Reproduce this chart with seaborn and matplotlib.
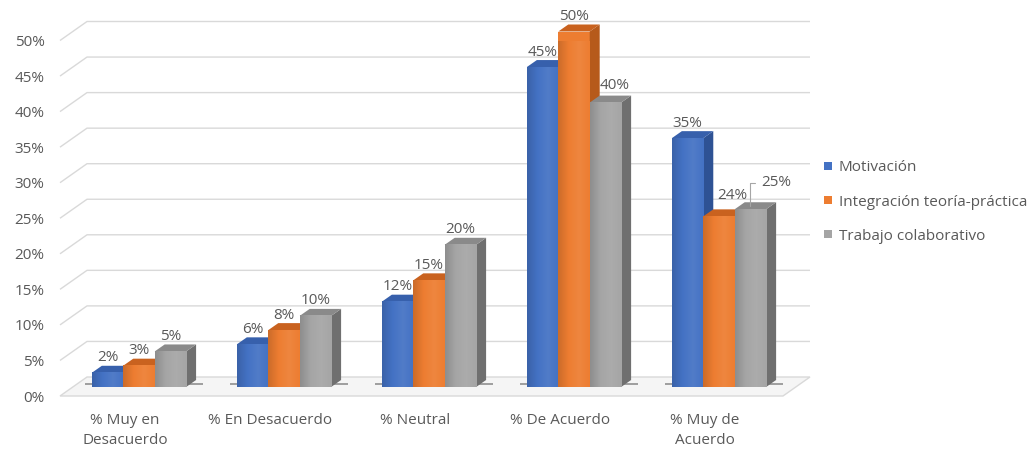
import numpy as np
import pandas as pd
import seaborn as sns
import matplotlib
matplotlib.use("Agg")
import matplotlib.pyplot as plt
from matplotlib.patches import Polygon
from matplotlib.lines import Line2D
from matplotlib.transforms import ScaledTranslation
from matplotlib.colors import LinearSegmentedColormap, to_rgb

# ---- data -------------------------------------------------------------
categories = ["% Muy en\nDesacuerdo", "% En Desacuerdo", "% Neutral",
              "% De Acuerdo", "% Muy de\nAcuerdo"]
series = ["Motivación", "Integración teoría-práctica", "Trabajo colaborativo"]
motivacion = [0.02, 0.06, 0.12, 0.45, 0.35]
integracion = [0.03, 0.08, 0.15, 0.50, 0.24]
trabajo = [0.05, 0.10, 0.20, 0.40, 0.25]
y_ticks = [0.00, 0.05, 0.10, 0.15, 0.20, 0.25, 0.30, 0.35, 0.40, 0.45, 0.50]
y_tick_labels = ["0%", "5%", "10%", "15%", "20%", "25%", "30%", "35%",
                 "40%", "45%", "50%"]

# ---- styling ----------------------------------------------------------
front_colors = ["#4472C4", "#ED7D31", "#A5A5A5"]
side_colors = ["#2E5294", "#B65A1B", "#6F6F6F"]
top_colors = ["#3760AC", "#C9621F", "#8A8A8A"]
text_color = "#595959"
grid_color = "#D9D9D9"

DPI = 100
W, H = 1034, 451
BACK = (27, 19)        # depth of the back wall, pixels
BAR_SHIFT = (14, 9)    # bars sit halfway into the floor
BAR_DEPTH = (10, 7)    # depth of each 3-D bar

df = pd.DataFrame({
    "categoria": categories * len(series),
    "serie": np.repeat(series, len(categories)),
    "valor": motivacion + integracion + trabajo,
})

sns.set_theme(style="white")
plt.rcParams["font.family"] = ["Open Sans", "DejaVu Sans"]
FS = 11

fig = plt.figure(figsize=(W / DPI, H / DPI), dpi=DPI)
ax = fig.add_axes([60 / W, 55 / H, 723 / W, 355.5 / H])

sns.barplot(data=df, x="categoria", y="valor", hue="serie",
            palette=front_colors, width=0.65, saturation=1,
            legend=False, ax=ax, linewidth=0)

xmin, xmax = -0.448, 4.538


def set_limits():
    ax.set_xlim(xmin, xmax)
    ax.set_ylim(0, 0.5)


set_limits()
for s in ax.spines.values():
    s.set_visible(False)
ax.grid(False)
ax.set_xlabel("")
ax.set_ylabel("")
ax.set_yticks(y_ticks)
ax.set_yticklabels(y_tick_labels)
ax.tick_params(axis="y", length=0, pad=11, labelsize=FS, labelcolor=text_color)
ax.tick_params(axis="x", length=0, pad=12, labelsize=FS, labelcolor=text_color)
for lab in ax.get_xticklabels():
    lab.set_linespacing(1.5)


def px_to_data(dx, dy):
    inv = ax.transData.inverted()
    x0, y0 = inv.transform((0, 0))
    x1, y1 = inv.transform((dx, dy))
    return x1 - x0, y1 - y0


def shade(color, f):
    r, g, b = to_rgb(color)
    if f < 1:
        return (r * f, g * f, b * f)
    return tuple(c + (1 - c) * (f - 1) for c in (r, g, b))


bdx, bdy = px_to_data(*BACK)
ddx, ddy = px_to_data(*BAR_DEPTH)
shift = ax.transData + ScaledTranslation(BAR_SHIFT[0] / DPI, BAR_SHIFT[1] / DPI,
                                         fig.dpi_scale_trans)

# floor and back-wall gridlines
floor = Polygon([(xmin, 0), (xmax, 0), (xmax + bdx, bdy), (xmin + bdx, bdy)],
                closed=True, facecolor="#F5F5F5", edgecolor=grid_color,
                linewidth=1.0, zorder=0.5, clip_on=False)
ax.add_patch(floor)
for t in y_ticks[1:]:
    ax.plot([xmin, xmin + bdx, xmax + bdx], [t, t + bdy, t + bdy],
            color=grid_color, lw=1.0, zorder=0.6, clip_on=False,
            solid_capstyle="butt")

# 3-D faces for every bar
label_offsets = {(1, 4): (13, 21), (2, 4): (26, 23), (2, 3): (9, 17)}
leader_labels = {(2, 4)}
group_extent = {}
gradient = np.linspace(0, 1, 64)[None, :]
for j, cont in enumerate(ax.containers):
    cmap = LinearSegmentedColormap.from_list(
        f"face{j}", [shade(front_colors[j], 0.86), shade(front_colors[j], 1.0),
                     shade(front_colors[j], 1.07), shade(front_colors[j], 1.0)])
    for i, p in enumerate(cont.patches):
        x, w, h = p.get_x(), p.get_width(), p.get_height()
        p.set_transform(shift)
        p.set_zorder(3 + j)
        p.set_clip_on(False)
        # light vertical shading across the front face
        ax.imshow(gradient, cmap=cmap, extent=(x, x + w, 0, h), aspect="auto",
                  interpolation="bilinear", transform=shift, clip_path=p,
                  zorder=3 + j + 0.1, clip_on=True)
        side = Polygon([(x + w, 0), (x + w, h), (x + w + ddx, h + ddy), (x + w + ddx, ddy)],
                       closed=True, facecolor=side_colors[j], linewidth=0,
                       transform=shift, zorder=3 + j, clip_on=False)
        top = Polygon([(x, h), (x + w, h), (x + w + ddx, h + ddy), (x + ddx, h + ddy)],
                      closed=True, facecolor=top_colors[j], linewidth=0,
                      transform=shift, zorder=3 + j, clip_on=False)
        ax.add_patch(side)
        ax.add_patch(top)
        lo, hi = group_extent.get(i, (np.inf, -np.inf))
        group_extent[i] = (min(lo, x), max(hi, x + w + ddx))

        off = label_offsets.get((j, i), (0, 15))
        txt = f"{round(h * 100)}%"
        if (j, i) in leader_labels:
            ax.annotate(txt, xy=(x + w / 2, h + ddy / 2), xycoords=shift,
                        xytext=off, textcoords="offset pixels",
                        ha="center", va="center", fontsize=FS, color=text_color,
                        zorder=10,
                        arrowprops=dict(arrowstyle="-", color="#A6A6A6", lw=0.8,
                                        shrinkA=2, shrinkB=0, relpos=(0, 0.5),
                                        connectionstyle="angle,angleA=0,angleB=90,rad=0"))
        else:
            ax.annotate(txt, xy=(x + w / 2, h), xycoords=shift,
                        xytext=off, textcoords="offset pixels",
                        ha="center", va="center", fontsize=FS, color=text_color,
                        zorder=10)

set_limits()

# soft shadow under each group of bars
sx, _ = px_to_data(7, 0)
_, sy = px_to_data(0, 3)
for i, (lo, hi) in group_extent.items():
    ax.plot([lo - sx, hi + sx], [sy, sy], transform=shift, color="#7A7A7A",
            lw=1.4, alpha=0.7, zorder=2, clip_on=False, solid_capstyle="butt")

# legend
handles = [Line2D([], [], marker="s", linestyle="none", markersize=5.5,
                  markerfacecolor=c, markeredgewidth=0) for c in front_colors]
fig.legend(handles, series, loc="center left", bbox_to_anchor=(822 / W, 1 - 202 / H),
           frameon=False, fontsize=FS, labelcolor=text_color, handlelength=0.8,
           handletextpad=0.3, labelspacing=1.25, borderpad=0, borderaxespad=0)

fig.savefig("out.png", dpi=DPI)
